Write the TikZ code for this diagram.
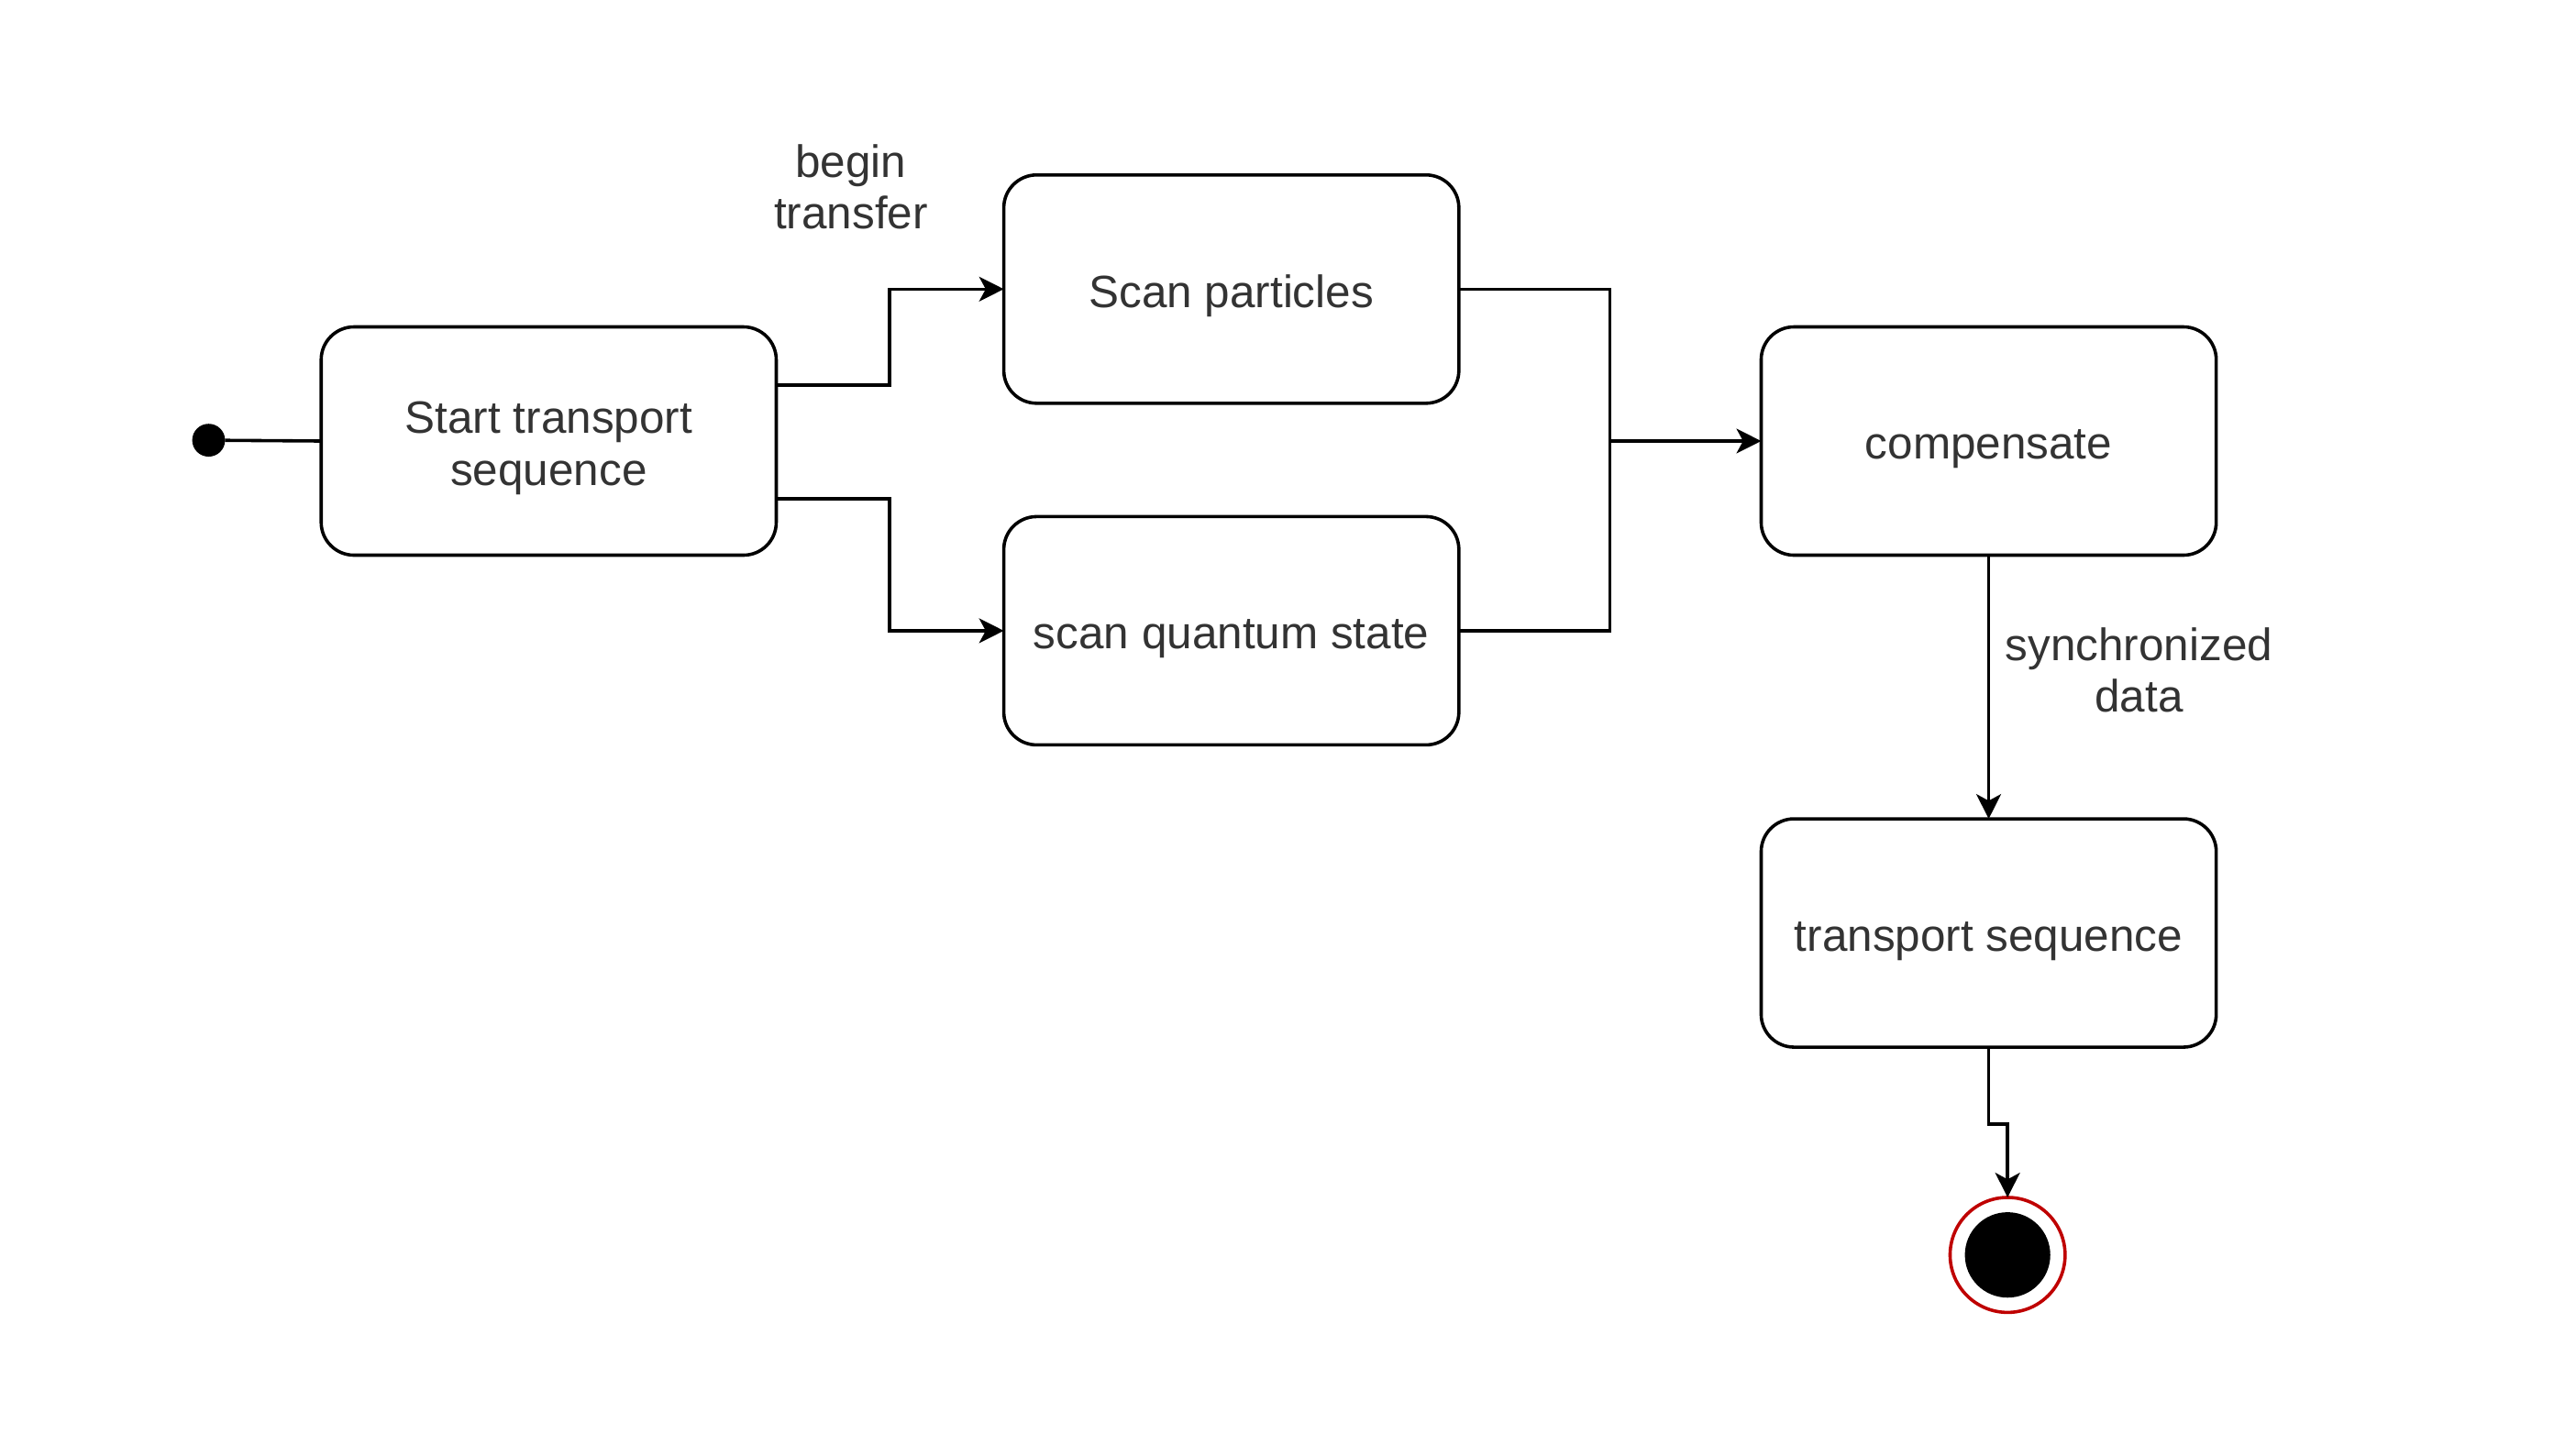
\documentclass[tikz,border=0pt]{standalone}
\usepackage{fontspec}
\setmainfont{Liberation Sans}
\usetikzlibrary{arrows.meta}
\newcommand{\tallstrut}{\vrule height 14pt width 0pt\relax}
\begin{document}
\begin{tikzpicture}[x=0.5pt,y=-0.5pt,
  every node/.style={inner sep=0pt, outer sep=0pt},
  state/.style={draw, line width=1pt, rounded corners=10pt, minimum width=138.5pt, minimum height=69.5pt, align=center, font=\fontsize{13.8}{15.8}\selectfont, text=black!80},
  lbl/.style={align=center, font=\fontsize{13.8}{15.6}\selectfont, text=black!80},
  conn/.style={line width=1pt},
  arr/.style={conn, -{Stealth[length=7.5pt,width=7.5pt,inset=2pt]}}]
\useasboundingbox (0,0) rectangle (1568,873);
\node[circle, fill=black, minimum size=10pt] (init) at (127,268) {};
\node[state] (start) at (334,268.5) {\tallstrut Start transport\\sequence};
\node[state] (sp) at (749.5,176) {\tallstrut Scan particles};
\node[state] (sq) at (749.5,384) {\tallstrut scan quantum state};
\node[state] (comp) at (1210.5,268.5) {\tallstrut compensate};
\node[state] (ts) at (1210.5,568) {\tallstrut transport sequence};
\node[circle, draw=red!75!black, line width=1pt, minimum size=35pt] (fin) at (1222,764) {};
\node[circle, fill=black, minimum size=26pt] (finin) at (fin.center) {};
\node[lbl] (l1) at (518,114) {begin\\transfer};
\node[lbl] (l2) at (1302,408) {synchronized\\data};
\coordinate (join) at (980,268.5);
\draw[conn] (init) -- (start.west);
\draw[arr] ([yshift=17pt]start.east) -- ++(34.5pt,0) |- (sp.west);
\draw[arr] ([yshift=-17.5pt]start.east) -- ++(34.5pt,0) |- (sq.west);
\draw[conn] (sp.east) -| (join);
\draw[conn] (sq.east) -| (join);
\draw[arr] (join) -- (comp.west);
\draw[arr] (comp.south) -- (ts.north);
\draw[arr] (ts.south) -- ++(0,-23.5pt) -| (fin.north);
\end{tikzpicture}
\end{document}
